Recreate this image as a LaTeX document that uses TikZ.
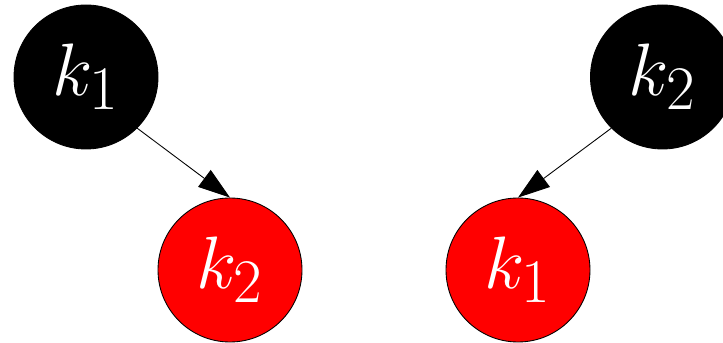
\documentclass[tikz,border=0pt]{standalone}
\usepackage{amsmath}
\usepackage{graphicx}
\usepackage{xcolor}
\usepackage{tikz}
\usetikzlibrary{arrows.meta}

\newcommand{\keytext}[1]{\scalebox{1.7}{\Huge $#1$}}

\tikzset{
  keynode/.style={circle, draw=black, line width=0.5pt, minimum size=2.88cm, inner sep=0pt,
    text=white},
  blacknode/.style={keynode, fill=black},
  rednode/.style={keynode, fill=red}
}

\begin{document}
\begin{tikzpicture}[>={Triangle[length=0.64cm, width=0.42cm]}, line width=0.5pt]
  \useasboundingbox (0,0) rectangle (14.46,6.84);
  % left pair
  \node[blacknode] (blkone) at (1.72,5.3) {\keytext{k_1}};
  \node[rednode] (redtwo) at (4.6,1.44) {\keytext{k_2}};
  \draw[->] (blkone.south east) -- (redtwo.north);
  % right pair
  \node[blacknode] (blktwo) at (13.25,5.3) {\keytext{k_2}};
  \node[rednode] (redone) at (10.36,1.44) {\keytext{k_1}};
  \draw[->] (blktwo.south west) -- (redone.north);
\end{tikzpicture}
\end{document}
